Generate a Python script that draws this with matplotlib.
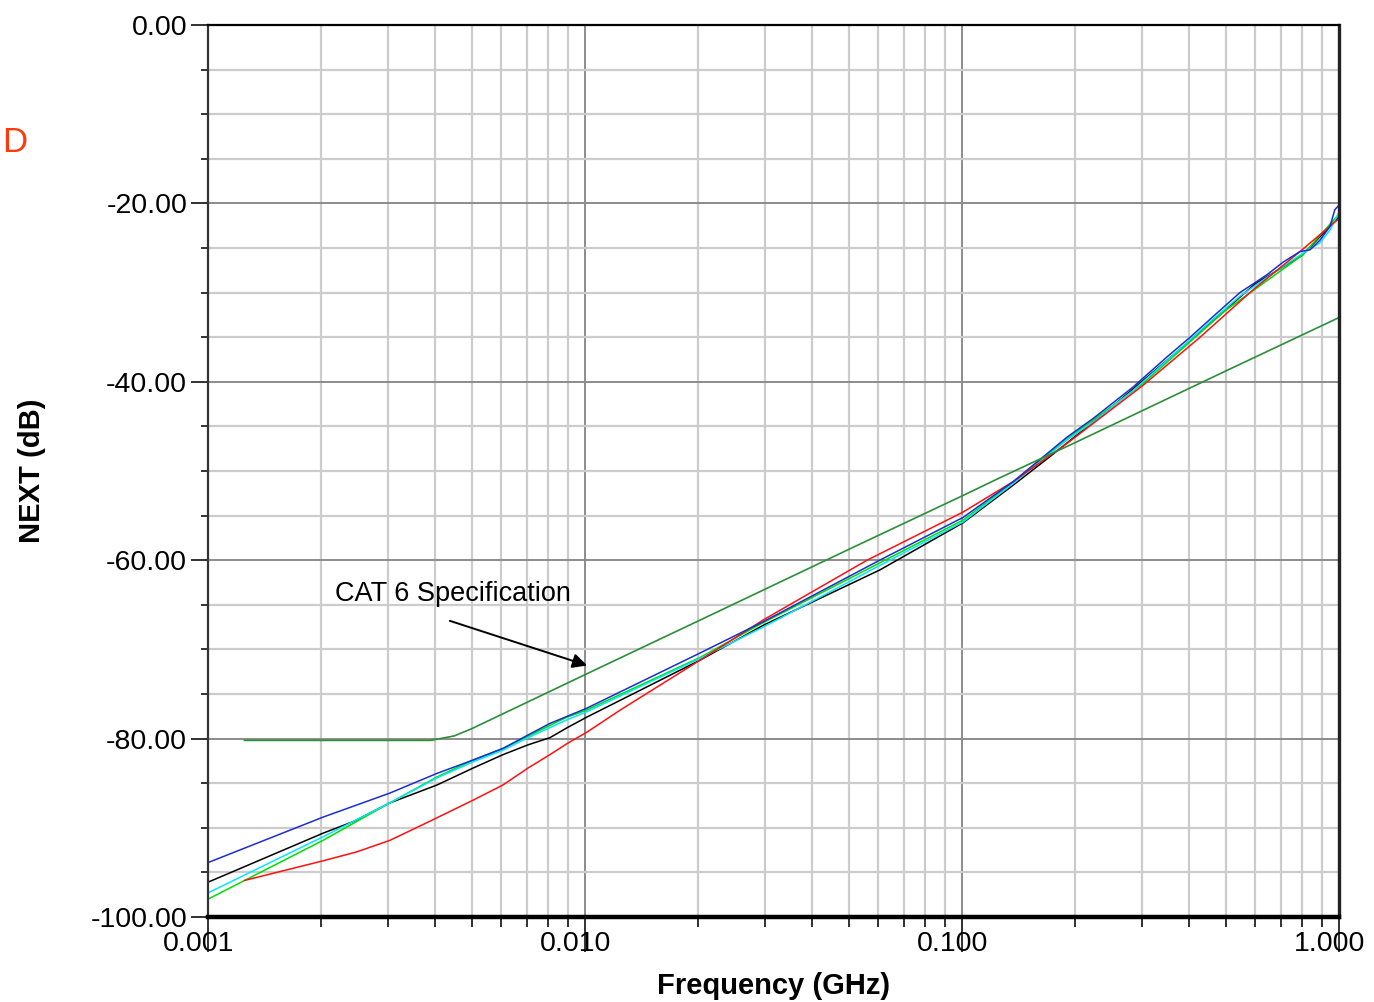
import numpy as np
import matplotlib
matplotlib.use('Agg')
import matplotlib.pyplot as plt
import matplotlib.transforms as mtransforms
from matplotlib.ticker import FixedLocator, LogLocator, NullFormatter, FormatStrFormatter

# Datos (frecuencia en GHz, NEXT en dB)
blue_f = [0.001, 0.00202, 0.00304, 0.00405, 0.00505, 0.00606, 0.00706, 0.00807, 0.0101,
          0.0202, 0.0297, 0.0605, 0.1007, 0.1366, 0.190, 0.223, 0.284, 0.350, 0.403, 0.463,
          0.546, 0.644, 0.710, 0.788, 0.838, 0.891, 0.946, 0.975, 1.0]
blue_db = [-93.9, -88.8, -86.1, -83.9, -82.4, -81.1, -79.6, -78.3, -76.6,
           -70.4, -66.9, -60.0, -55.2, -51.2, -46.2, -44.1, -40.6, -37.2, -35.0, -32.7,
           -30.0, -28.0, -26.6, -25.4, -25.2, -24.1, -22.6, -20.7, -20.2]

black_f = [0.001, 0.00202, 0.00243, 0.00304, 0.00405, 0.00505, 0.00606, 0.00706, 0.00807, 0.00895,
           0.0101, 0.0202, 0.0297, 0.0605, 0.1007, 0.1366, 0.171, 0.25, 0.40, 0.60, 0.80, 1.0]
black_db = [-96.1, -90.6, -89.3, -87.2, -85.2, -83.3, -81.8, -80.7, -79.9, -78.8,
            -77.6, -71.2, -67.3, -61.1, -55.8, -51.6, -48.4, -42.8, -35.5, -29.0, -25.8, -21.5]

cyan_f = [0.001, 0.00202, 0.00304, 0.00405, 0.00505, 0.00606, 0.00706, 0.00895, 0.0101,
          0.0202, 0.0297, 0.0605, 0.1007, 0.1366, 0.19, 0.223, 0.284, 0.35, 0.463, 0.546,
          0.644, 0.788, 0.891, 0.946, 1.0]
cyan_db = [-97.3, -91.0, -87.2, -84.4, -82.6, -81.3, -79.9, -77.9, -77.0,
           -71.0, -67.5, -60.6, -55.7, -51.4, -46.5, -44.5, -41.0, -37.6, -33.0, -30.4,
           -28.3, -25.8, -24.4, -23.0, -21.0]

green_f = [0.001, 0.00202, 0.00304, 0.00405, 0.00505, 0.00606, 0.00895, 0.0101,
           0.0202, 0.0297, 0.0605, 0.1007, 0.1366, 0.19, 0.30, 0.5, 0.8, 1.0]
green_db = [-98.0, -91.4, -87.2, -84.3, -82.4, -81.1, -77.6, -76.8,
            -70.9, -67.0, -60.3, -55.5, -51.3, -46.4, -40.3, -32.0, -25.8, -21.2]

red_f = [0.00125, 0.00202, 0.00248, 0.00304, 0.00395, 0.00505, 0.00606, 0.00706, 0.00807, 0.00901,
         0.0101, 0.0124, 0.0202, 0.0297, 0.056, 0.1007, 0.1366, 0.190, 0.302, 0.428, 0.591, 0.788, 1.0]
red_db = [-95.9, -93.7, -92.7, -91.4, -89.1, -86.9, -85.2, -83.3, -81.8, -80.5,
          -79.3, -76.8, -71.2, -66.7, -60.0, -54.6, -51.2, -46.9, -40.4, -35.0, -29.7, -25.4, -21.7]

spec_f = [0.00125, 0.0039, 0.0045, 0.0050, 0.011, 0.02, 0.05, 0.1, 0.124, 0.2, 0.5, 1.0]
spec_db = [-80.2, -80.2, -79.7, -78.9, -72.0, -66.8, -58.8, -52.8, -50.9, -46.8, -38.8, -32.8]

x_ticks = [0.001, 0.01, 0.1, 1.0]
y_ticks = [0, -20, -40, -60, -80, -100]

plt.rcParams['font.family'] = ['Liberation Sans', 'DejaVu Sans']

fig = plt.figure(figsize=(13.74, 10.02), dpi=100)
ax = fig.add_axes([208 / 1374, 1 - 917 / 1002, (1339 - 208) / 1374, (917 - 25) / 1002])

ax.set_xscale('log')
ax.set_xlim(0.001, 1.0)
ax.set_ylim(-100, 0)

# rejilla
ax.xaxis.set_major_locator(FixedLocator(x_ticks))
ax.xaxis.set_minor_locator(LogLocator(base=10, subs=np.arange(2, 10)))
ax.xaxis.set_minor_formatter(NullFormatter())
ax.xaxis.set_major_formatter(FormatStrFormatter('%.3f'))
ax.yaxis.set_major_locator(FixedLocator(y_ticks))
ax.yaxis.set_minor_locator(FixedLocator(np.arange(-100, 1, 5)))
ax.yaxis.set_major_formatter(FormatStrFormatter('%.2f'))

ax.grid(which='minor', color='#cccccc', lw=1.6)
ax.grid(which='major', color='#8c8c8c', lw=1.4)
ax.set_axisbelow(True)

ax.tick_params(axis='y', which='major', direction='out', length=12, width=1.3, pad=3,
               labelsize=20.5, color='#222222')
ax.tick_params(axis='y', which='minor', direction='out', length=5, width=1.3, color='#222222')
ax.tick_params(axis='x', which='major', direction='out', length=25, width=1.3, pad=-15,
               labelsize=20.5, color='#222222')
ax.tick_params(axis='x', which='minor', direction='out', length=7, width=1.3, color='#222222')

# etiquetas del eje x un poco a la izquierda, como en el original
shift = mtransforms.ScaledTranslation(-9 / 100, 0, fig.dpi_scale_trans)
for lbl in ax.get_xticklabels():
    lbl.set_transform(lbl.get_transform() + shift)

for side, lw, col in [('left', 1.6, '#333333'), ('bottom', 3.2, 'black'),
                      ('top', 1.6, 'black'), ('right', 2.4, '#222222')]:
    ax.spines[side].set_linewidth(lw)
    ax.spines[side].set_color(col)

# curvas
ax.plot(black_f, black_db, color='black', lw=1.1)
ax.plot(green_f, green_db, color='#00e000', lw=1.1)
ax.plot(cyan_f, cyan_db, color='#00e8ff', lw=1.1)
ax.plot(red_f, red_db, color='#ff1010', lw=1.1)
ax.plot(blue_f, blue_db, color='#1c2cd0', lw=1.1)
ax.plot(spec_f, spec_db, color='#2a8f38', lw=1.2)

ax.text(0.00217, -63.8, 'CAT 6 Specification', fontsize=19.5, va='center', ha='left')
ax.annotate('', xy=(0.0103, -71.9), xytext=(0.00431, -66.7),
            arrowprops=dict(arrowstyle='-|>', color='black', lw=1.4, mutation_scale=22))

ax.set_xlabel('Frequency (GHz)', fontsize=21, fontweight='bold', labelpad=11)
ax.set_ylabel('NEXT (dB)', fontsize=21, fontweight='bold', labelpad=32)

fig.text(2 / 1374, 1 - 143 / 1002, 'D', color='#ff3a0a', fontsize=25, va='center', ha='left')

plt.savefig('out.png', dpi=100)
plt.close('all')
